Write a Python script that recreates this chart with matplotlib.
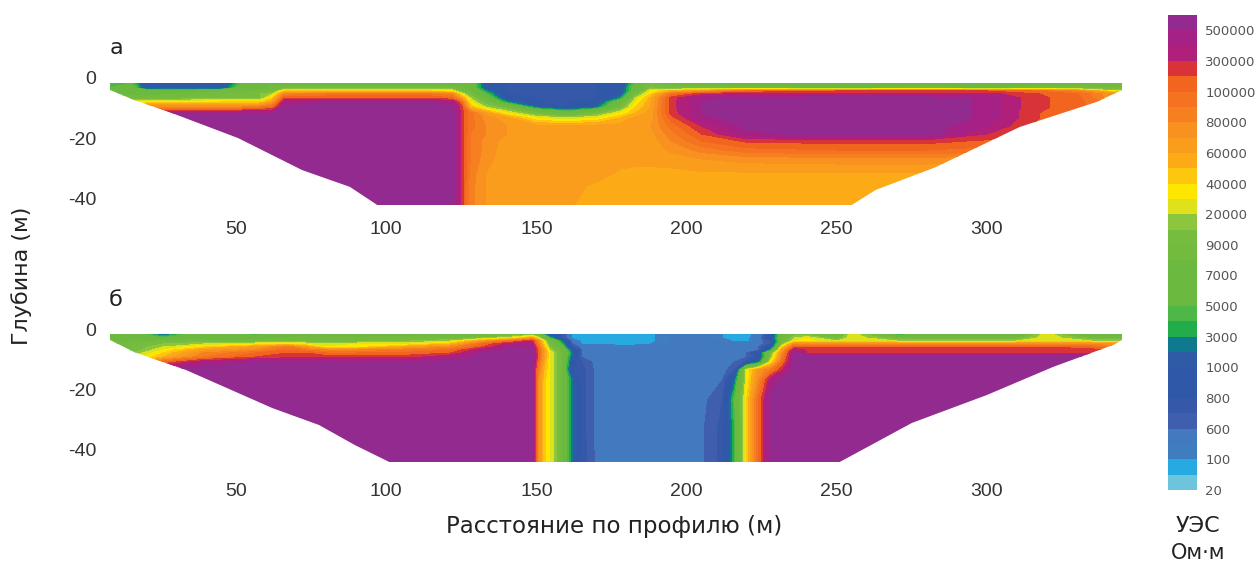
import numpy as np
import matplotlib
matplotlib.use("Agg")
import matplotlib.pyplot as plt
from matplotlib.colors import ListedColormap, BoundaryNorm
from matplotlib.patches import Polygon

# Colour scale: class index 0..15 <-> resistivity labels
scale_labels = ["20", "100", "600", "800", "1000", "3000", "5000", "7000", "9000",
                "20000", "40000", "60000", "80000", "100000", "300000", "500000"]
band_colors = ["#6cc5dc", "#27aae1", "#3f7cc0", "#4379bf", "#3f5fae", "#3558a8", "#2f59a8", "#2f59a8",
               "#2f5aa5", "#0f7a8f", "#22ad4b", "#4db848", "#6cb93f", "#6cb93f", "#6cb93f", "#72bb3f",
               "#76bd3f", "#8cc63f", "#dfe21a", "#ffe600", "#fdc70f", "#fcab17", "#fa9c1c", "#f8911f",
               "#f6801f", "#f57320", "#f1651f", "#d9333a", "#b01f7a", "#a52185", "#922a90"]

# Panel a: section
x_a = [8, 15, 20, 30, 45, 52, 58, 62, 66, 80, 100, 115, 122, 125, 128, 133, 140, 150, 160, 170,
       178, 183, 188, 195, 205, 220, 250, 280, 300, 315, 330, 345]
depth_a = [-1.67, -3.33, -4.33, -5.33, -6.67, -8, -9.67, -11.67, -13.33, -16, -18.67, -21, -24, -27, -32, -36, -42.33]
res_a = [
    [6,6,3.5,3.5,3.5,6,7,7,7,7,7,7,7,7,7,4,3,3,3,3,3.5,6,8,7,7,6.5,6,7,6,7,7,8],
    [6,7,3.5,3.5,3.5,7,7,8,8,8,8,8,8,7.5,7,4,3,3,3,3,3.5,7,8.5,8,8,8,7,8,7,8,8,8],
    [7,7,7,7,7.5,7.5,8,8,10,10,10,10,9.5,8,7.5,5,3,3,3,3,3.5,7,9.5,10.7,11.5,13,13.5,13.5,13.5,13,12,9],
    [7,7,7,7.5,8,8,8.5,9,12,12.5,12.5,12.5,12,9.5,8,6,3,3,3,3,4,8,10,12.8,13.8,14.2,14.2,14.2,14.2,13.6,13,11.2],
    [8,8,8,8,8.5,8.5,8.5,10,13.5,13.5,13.5,13.5,13,11.2,9,7,3.5,3,3,3,5,9,10.7,13.8,14.8,15.2,15.3,15.3,14.9,13.7,13.2,11.2],
    [9.5,9.5,9.5,9.7,10,10,10,11.2,14.5,15,15,15,14.5,13,9.5,8,5,3,3,3.5,7,9.5,10.9,13.8,15,15.3,15.3,15.3,14.9,13.7,13.2,12],
    [11.2,11.2,12,12,12,12,12.5,13,15,15.3,15.3,15.3,15,13.8,10.5,9,8,4.5,3,4.5,8,10,11,13.8,15,15.3,15.3,15.3,14.9,13.7,13.2,12],
    [13,14,14.5,15,15,15,15,15,15.3,15.3,15.3,15.3,15.3,13.8,12.7,11.2,9.5,8,7,8,9.5,10.5,11.2,13.7,15,15.3,15.3,15.3,14.9,13.6,13,12],
    [15,15,15,15.3,15.3,15.3,15.3,15.3,15.3,15.3,15.3,15.3,15.3,13.8,12.7,11.8,11.2,9.5,9,9.5,10.5,11.2,11.2,13.3,14.8,15.3,15.3,15.3,14.9,13.6,13,12],
    [15.3]*13 + [13.8,12.7,12,11.5,11.2,11.2,11.2,11.2,11.2,11.5,12.7,14,15.2,15.3,15.3,14.5,13.5,13,12],
    [15.3]*13 + [13.8,12.5,12,11.5,11.2,11.2,11.2,11.2,11.2,11.3,12.3,13.5,14.8,15.3,15.3,14,13.3,12.8,12],
    [15.3]*13 + [13.8,12.5,11.8,11.3,11.2,11.2,11.2,11.2,11.2,11.2,12,13,13.6,13.7,13.7,13.4,13,12.7,12],
    [15.3]*13 + [13.8,12.5,11.8,11.2,11.2,11.2,11.2,11.2,11.2,11.2,11.6,12.2,12.8,13,13,12.8,12.5,12,12],
    [15.3]*13 + [13.8,12.5,11.7,11.2,11.2,11.2,11.2,11.2,11.2,11.2,11.3,11.5,11.7,11.8,11.8,11.6,11.3,11.2,11.2],
    [15.3]*13 + [13.8,12.3,11.5,11.2,11.2,11.2,11.2,10.9,10.8,10.8,10.8,10.9,10.9,10.9,10.9,10.9,10.9,10.9,10.9],
    [15.3]*13 + [13.8,12.2,11.5,11.2,11.2,11.2,10.9,10.7,10.7,10.7,10.7,10.7,10.7,10.7,10.7,10.7,10.7,10.7,10.7],
    [15.3]*13 + [13.8,12.2,11.5,11.2,11.2,11.1,10.7,10.7,10.7,10.7,10.7,10.7,10.7,10.7,10.7,10.7,10.7,10.7,10.7],
]
edge_x_a = [8, 8, 16, 27.6, 50.6, 72, 87.9, 97, 255, 263, 283, 311, 336.5, 345, 345]
edge_z_a = [-1.67, -4, -7.3, -11.3, -20, -30.7, -36.3, -42.33, -42.33, -37.3, -29.7, -16.3, -8, -4, -1.67]

# Panel b: section
x_b = [8, 15.3, 25.6, 39, 56.6, 67, 73.2, 80.2, 90.5, 108.2, 121.5, 131.8, 142.2, 148.5, 150.5, 152.5, 154.5, 158, 162, 165,
       170.4, 180.4, 188, 196, 205, 212, 216, 220, 224, 228, 232, 236, 240, 250, 255, 270, 290, 310, 320, 335, 345]
depth_b = [-1.33, -2.67, -3.67, -4.67, -5.67, -6.67, -7.67, -9, -10.67, -13.33, -16.67, -23.33, -33.33, -44]
res_b = [
    [7,7,4,7,5.5,7,7,7,5.5,7,7,7,7.5,8,7,5,3.5,3,0.9,0.8,0.8,0.8,0.8,1.7,1.7,1,0.8,0.8,1.2,3,7,8,8,7,9.5,5,7,6.5,9.5,5.5,7],
    [7,7,6,7,7,7.5,8,8,8,8,8,8.5,9.5,11.2,9.5,7.5,5.5,3,0.9,0.8,0.8,0.8,0.8,1.7,1.7,1,0.8,0.8,1.5,3.5,7.5,9,9.5,8,9.5,8,8,8,9.5,8,8],
    [7.5,7.5,8,8,8,8,8,8,8,8.5,9,11.2,13,14,12,9.5,7.5,5,1.5,0.9,0.8,0.8,0.8,1.7,1.7,1.7,0.8,0.8,1.7,2.5,7.5,9.5,9.7,9,9.5,9,9,9,9.5,9,9],
    [7.5,8,8.5,9,9.5,10,9.5,9.5,9.5,9.5,10.5,13,14.5,14.5,12.5,10,8,6,2,1,0.9,0.8,1,1.7,1.7,1.7,1.7,1.5,1.7,2.5,8.5,12,12,12,12,12,12,12,12,12,11.2],
    [8,8,9,10,11.2,12.5,11.2,9.5,9.7,11.2,12,13.5,15,15,13,10.5,8.5,7,2.5,1.7,1.7,1.2,1.7,1.7,1.7,1.7,1.7,1.7,2,3.5,10,13.5,13.5,13.5,13.5,13.5,13.5,13.5,13.5,13,12],
    [8,8,9.5,11.2,12,13,12.5,12,12,12.5,13,14.5,15.3,15.3,13.3,11.2,9,7.5,4,2,1.7,1.7,1.7,1.7,1.7,1.7,1.7,1.7,2,5,11.5,14.5,13.9,13.9,13.9,13.9,13.9,13.9,13.9,13.8,13.3],
    [8,8.5,10,12,13,13.5,13.5,13,13,13.2,13.5,15,15.3,15,13.5,11.2,9.5,8,4.5,2,1.7,1.7,1.7,1.7,1.7,1.7,1.7,2,3.5,8,12,15.3,14,14,14,14,14,14,14,14,13.5],
    [9,9,10.5,12.5,13.5,13.8,13.8,13.8,13.8,13.8,14.5,15.3,15.3,15.3,13.5,11.2,9.5,8,4,2,1.7,1.7,1.7,1.7,1.7,1.7,1.7,2,3,8.5,12.5,15.3,15.2,15.2,15.2,15.2,15.2,15.2,15.2,15.2,14],
    [10,10.5,13,14.5,15,15,15,15,15,15,15.2,15.3,15.3,15.3,13,10.8,9.5,8,3.5,2.5,1.7,1.7,1.7,1.7,1.7,1.7,2,2.7,4.5,9.5,13,15.3,15.3,15.3,15.3,15.3,15.3,15.3,15.3,15.3,15.3],
    [15.3]*14 + [12.5,10.5,9.5,8,3,2.8,1.7,1.7,1.7,1.7,1.7,1.7,2.5,9.5,11.5,12.5,14] + [15.3]*10,
    [15.3]*14 + [12,10.2,9.5,7.8,4.5,2.8,1.7,1.7,1.7,1.7,1.7,2,4.5,9.5,12,14.5,15.3] + [15.3]*10,
    [15.3]*14 + [12,10.2,9.5,7.8,4.5,2.8,1.7,1.7,1.7,1.7,1.8,2.5,6,10,13,15.3,15.3] + [15.3]*10,
    [15.3]*14 + [12,10.2,9.5,7.8,4.5,2.8,1.7,1.7,1.7,1.7,1.9,2.7,5.5,10,13,15.3,15.3] + [15.3]*10,
    [15.3]*14 + [12,10.2,9.5,7.8,4.5,2.8,1.8,1.7,1.7,1.7,1.9,2.7,5.5,10,13,15.3,15.3] + [15.3]*10,
]
edge_x_b = [8, 8, 16, 33.3, 62, 77.6, 89.5, 101, 251, 275, 300, 322, 342, 345, 345]
edge_z_b = [-1.33, -3.33, -7.33, -13.33, -26, -31.67, -38.33, -44, -44, -31, -21.67, -12.33, -5, -3.33, -1.33]

x_ticks = [50, 100, 150, 200, 250, 300]
y_ticks = [0, -20, -40]

W, H = 1257, 565
fig = plt.figure(figsize=(W / 100, H / 100), dpi=100, facecolor="white")

def px_axes(left, top, right, bottom):
    return fig.add_axes([left / W, 1 - bottom / H, (right - left) / W, (bottom - top) / H])

levels = np.arange(0, 15.51, 0.5)
cmap = ListedColormap(band_colors)
norm = BoundaryNorm(levels, cmap.N)

def panel(box, xs, zs, vals, ex, ez, ylim, xpad):
    ax = px_axes(*box)
    cs = ax.contourf(xs, zs, np.array(vals, dtype=float), levels=levels, cmap=cmap, norm=norm)
    clip = Polygon(np.column_stack([ex, ez]), closed=True, transform=ax.transData,
                   facecolor="none", edgecolor="none")
    ax.add_patch(clip)
    cs.set_clip_path(clip)
    ax.set_xlim(8, 345)
    ax.set_ylim(*ylim)
    ax.set_xticks(x_ticks)
    ax.set_yticks(y_ticks)
    ax.set_yticklabels(["0", "-20", "-40"])
    ax.tick_params(length=0, labelsize=14, labelcolor="#333333",
                   labelfontfamily="Liberation Sans")
    ax.tick_params(axis="x", pad=xpad)
    ax.tick_params(axis="y", pad=10)
    for s in ax.spines.values():
        s.set_visible(False)
    ax.patch.set_alpha(0)
    return cs

cs = panel((110, 68, 1122, 205), x_a, depth_a, res_a, edge_x_a, edge_z_a, (-42.33, 3.33), 11.5)
panel((110, 320, 1122, 462), x_b, depth_b, res_b, edge_x_b, edge_z_b, (-44, 3.33), 15)

TXT = dict(family="DejaVu Sans", fontsize=16, color="#222222", va="center", ha="center")
fig.text(116 / W, 1 - 48 / H, "а", **TXT)
fig.text(116 / W, 1 - 300 / H, "б", **TXT)
fig.text(22 / W, 1 - 276 / H, "Глубина (м)", rotation=90, **TXT)
fig.text(614 / W, 1 - 526 / H, "Расстояние по профилю (м)", family="DejaVu Sans", fontsize=16.5,
         color="#222222", va="center", ha="center")

cax = px_axes(1168, 15, 1197, 490)
cb = fig.colorbar(cs, cax=cax, ticks=np.arange(0, 16), spacing="proportional")
cb.ax.set_yticklabels(scale_labels)
cb.ax.minorticks_off()
cb.ax.tick_params(length=0, pad=6)
for lab in cb.ax.get_yticklabels():
    lab.set(family="DejaVu Sans", fontsize=9.5, color="#555555")
cb.outline.set_visible(False)

fig.text(1198 / W, 1 - 526 / H, "УЭС", **TXT)
fig.text(1198 / W, 1 - 553 / H, "Ом·м", family="DejaVu Sans", fontsize=15,
         color="#222222", va="center", ha="center")

fig.savefig("out.png", dpi=100, facecolor="white")
